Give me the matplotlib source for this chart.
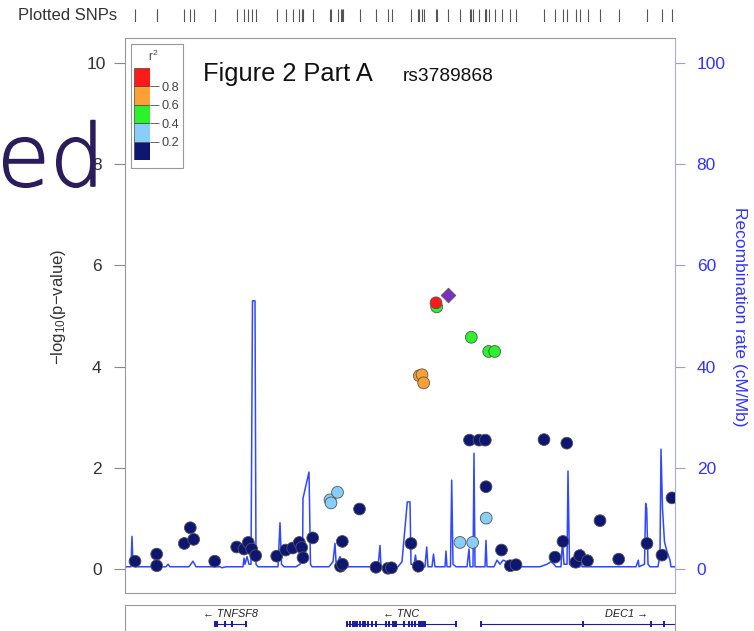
import numpy as np
import matplotlib.pyplot as plt
import matplotlib.patheffects as pe
from matplotlib.patches import Rectangle

plt.rcParams['font.family'] = ['Liberation Sans', 'DejaVu Sans']
plt.rcParams['mathtext.default'] = 'regular'

W, H = 754, 631

# SNPs: position (kb from region start), -log10(p), r2 with index SNP
snp_pos = [10, 31.7, 31.7, 59.3, 65.3, 68.7, 89.7, 111.7, 119, 123.3, 126.7, 130.7,
           151.7, 160.7, 167.7, 174.3, 176.7, 178, 187.7, 215.5, 217.5, 217.3, 234.5,
           251, 263, 266.5, 286, 293.3, 344.5, 354, 360.3, 361, 376.5, 385.3, 391,
           419, 430, 438, 441.8, 450.7, 454.8, 462.5, 475, 493.7, 522, 537, 547,
           205, 206, 212.5, 335, 347.7, 361.2,
           311.7, 346.3, 363.7, 369.7,
           294.3, 297, 298.7,
           311]
snp_logp = [0.16, 0.30, 0.07, 0.51, 0.82, 0.59, 0.16, 0.44, 0.40, 0.53, 0.40, 0.27,
            0.26, 0.38, 0.42, 0.53, 0.43, 0.23, 0.62, 0.06, 0.10, 0.55, 1.19,
            0.04, 0.02, 0.03, 0.51, 0.06, 2.55, 2.55, 2.55, 1.63, 0.38, 0.07, 0.09,
            2.56, 0.24, 0.55, 2.49, 0.14, 0.27, 0.17, 0.96, 0.20, 0.51, 0.28, 1.41,
            1.37, 1.31, 1.52, 0.53, 0.53, 1.01,
            5.18, 4.58, 4.30, 4.30,
            3.82, 3.84, 3.68,
            5.26]
snp_r2 = [0.1] * 47 + [0.3] * 6 + [0.5] * 4 + [0.7] * 3 + [0.9]

index_pos = 323
index_logp = 5.41

# recombination rate (cM/Mb)
rec_pos = [0, 6, 7, 8, 10, 41, 43, 45, 64, 68, 71, 95, 97, 101,
           118, 119, 120, 122, 124, 126, 127.5, 130, 131, 133,
           153, 155, 156.5, 159, 171, 175, 177.5, 178, 184, 185.5, 187,
           204, 208, 210, 211, 213, 215, 218, 253, 255, 256,
           273, 277, 279, 282.3, 285, 286, 289, 290.5, 292, 300, 301.7, 303,
           307, 308.5, 310, 320, 321, 322, 325.5, 326.7, 328, 331,
           342, 344, 345, 348, 349, 350, 360, 361, 362,
           369, 372, 375, 378, 382, 384, 415, 422, 426, 429, 431,
           436, 437.5, 439, 442, 443, 444.5, 447, 455, 456, 457,
           511, 513.3, 514, 519.5, 520.7, 521.7, 523, 525,
           533, 535, 536, 537.5, 539.5, 542, 545, 546, 550]
rec_rate = [0.5, 0.5, 6.5, 1.0, 0.5, 0.5, 1.0, 0.5, 0.5, 1.6, 0.5, 0.5, 0.3, 0.5,
            0.5, 2.2, 1.0, 2.5, 1.0, 1.0, 53.0, 53.0, 1.0, 0.5,
            0.5, 9.2, 1.0, 0.5, 0.5, 1.0, 2.0, 14.0, 19.2, 1.0, 0.5,
            0.5, 1.5, 5.1, 1.5, 1.5, 2.5, 0.5, 0.5, 4.7, 0.5,
            0.5, 1.5, 6.0, 13.3, 13.3, 1.0, 1.0, 2.8, 0.5, 0.5, 4.4, 0.5,
            0.5, 3.0, 0.5, 0.5, 3.6, 0.5, 0.5, 17.6, 1.0, 0.5,
            0.5, 4.0, 0.5, 0.5, 22.9, 0.5, 0.5, 5.7, 0.5,
            0.5, 1.8, 1.0, 1.8, 1.5, 0.5, 0.5, 1.0, 1.5, 1.0, 0.5,
            0.5, 5.7, 1.0, 1.0, 19.4, 1.0, 0.5, 0.5, 3.9, 0.5,
            0.5, 1.8, 0.5, 1.0, 13.0, 12.0, 1.0, 0.5,
            0.5, 3.0, 23.7, 12.0, 5.4, 3.5, 1.8, 0.5, 0.5]

# genes
gene_names = ["TNFSF8", "TNC", "DEC1"]
gene_start = [90, 221.5, 355.7]
gene_end = [121, 330.6, 648]
gene_strand = ["-", "-", "+"]
gene_exons = [[90, 91.5, 99.5, 107, 120.5],
              [222, 224.7, 227.6, 230, 232, 235, 237.6, 240, 243.4, 247, 250.5,
               260.6, 263.5, 268, 269.5, 271, 279, 284, 286.5, 290, 293.6, 295.8,
               298.3, 300, 330.6],
              [355.7, 458, 526, 539]]

r2_edges = [0, 0.2, 0.4, 0.6, 0.8, 1.0]
r2_colors = ["#0d1670", "#87CEFA", "#2cf22c", "#FFA033", "#FF1A1A"]


def box(x0, y0, x1, y1):
    return [x0 / W, 1 - y1 / H, (x1 - x0) / W, (y1 - y0) / H]


def color_for(r2):
    for i in range(5):
        if r2 <= r2_edges[i + 1]:
            return r2_colors[i]
    return r2_colors[-1]


fig = plt.figure(figsize=(W / 100, H / 100), dpi=100)

# main panel
ax = fig.add_axes(box(125, 38, 675, 593))
ax2 = ax.twinx()
ax.set_zorder(ax2.get_zorder() + 1)
ax.patch.set_visible(False)

ylo, yhi = (569.3 - 593) / 50.66, (569.3 - 38) / 50.66
ax.set_xlim(0, 550)
ax.set_ylim(ylo, yhi)
ax2.set_ylim(ylo * 10, yhi * 10)

ax2.plot(rec_pos, rec_rate, color="#3048ff", lw=1.1)

cols = [color_for(r) for r in snp_r2]
ax.scatter(snp_pos, snp_logp, c=cols, s=72, edgecolors="#555555", linewidths=0.6, zorder=3)
ax.scatter([index_pos], [index_logp], marker="D", s=55, c="#7d2fc0",
           edgecolors="#555555", linewidths=0.6, zorder=4)

ax.set_xticks([])
ax.set_yticks([0, 2, 4, 6, 8, 10])
ax.tick_params(axis="y", length=8, width=0.8, color="#888888", labelsize=12.5,
               labelcolor="#333333", pad=12.3)
plt.setp(ax.get_yticklabels(), ha="center")
for s in ["left", "top", "bottom"]:
    ax.spines[s].set_color("#999999")
ax.spines["right"].set_visible(False)

ax2.set_yticks([0, 20, 40, 60, 80, 100])
ax2.tick_params(axis="y", length=7.2, width=0.8, color="#9999ee", labelsize=12.5,
                labelcolor="#3333ff", pad=8.4)
for s in ["left", "top", "bottom"]:
    ax2.spines[s].set_visible(False)
ax2.spines["right"].set_color("#aaaadd")

fig.text(58 / W, 1 - 307 / H, r"$\mathregular{-log_{10}}$(p$\mathregular{-}$value)",
         rotation=90, ha="center", va="center", fontsize=12, color="#333333")
fig.text(740 / W, 1 - 317 / H, "Recombination rate (cM/Mb)", rotation=270,
         ha="center", va="center", fontsize=12.5, color="#3333ff")

fig.text(203 / W, 1 - 81 / H, "Figure 2 Part A", fontsize=18.3, va="baseline", color="#111111")
fig.text(403 / W, 1 - 81 / H, "rs3789868", fontsize=13.8, va="baseline", color="#111111")

# r2 legend
fig.patches.append(Rectangle((131 / W, 1 - 168 / H), 52 / W, 124 / H, transform=fig.transFigure,
                             facecolor="white", edgecolor="#999999", lw=0.8, zorder=5))
la = fig.add_axes(box(134, 68, 150, 160))
la.set_zorder(6)
for i in range(5):
    la.bar(0.5, r2_edges[i + 1] - r2_edges[i], bottom=r2_edges[i], width=1,
           color=r2_colors[i], edgecolor="#444444", linewidth=0.5)
la.set_xlim(0, 1)
la.set_ylim(0, 1)
la.set_xticks([])
la.set_yticks([0.2, 0.4, 0.6, 0.8])
la.yaxis.tick_right()
la.tick_params(axis="y", length=6.5, width=0.7, color="#666666", labelsize=9.2,
               labelcolor="#444444", pad=1.5)
for s in la.spines.values():
    s.set_visible(False)
fig.text(153 / W, 1 - 56 / H, r"$\mathregular{r^2}$", ha="center", va="center",
         fontsize=8.5, color="#444444", zorder=7)

# plotted SNPs strip
sa = fig.add_axes(box(125, 9, 675, 22))
sa.set_xlim(0, 550)
sa.set_ylim(0, 1)
sa.vlines(snp_pos + [index_pos], 0, 1, color="#555555", lw=0.8)
sa.axis("off")
fig.text(18 / W, 1 - 15.5 / H, "Plotted SNPs", fontsize=12, va="center", color="#333333")

# gene track
ga = fig.add_axes(box(125, 605, 675, 645))
ga.set_xlim(0, 550)
ga.set_ylim(0, 1)
ga.set_xticks([])
ga.set_yticks([])
for s in ga.spines.values():
    s.set_color("#999999")
for name, st, en, strand, exons in zip(gene_names, gene_start, gene_end, gene_strand, gene_exons):
    ga.hlines(0.525, st, en, color="#1a1aa0", lw=0.8)
    ga.vlines(exons, 0.455, 0.595, color="#1a1aa0", lw=1.4)
    label = "\u2190 " + name if strand == "-" else name + " \u2192"
    ga.text((st + en) / 2, 0.775, label, ha="center", va="center", fontsize=7.8,
            style="italic", color="#222222")

# overlay text
fig.text(-3 / W, 1 - 186 / H, "ed", fontsize=62, color="#2b1d5c", family="DejaVu Sans",
         fontweight="light", va="baseline", zorder=10,
         path_effects=[pe.withStroke(linewidth=1.2, foreground="#2b1d5c")])

fig.savefig("out.png", dpi=100)
